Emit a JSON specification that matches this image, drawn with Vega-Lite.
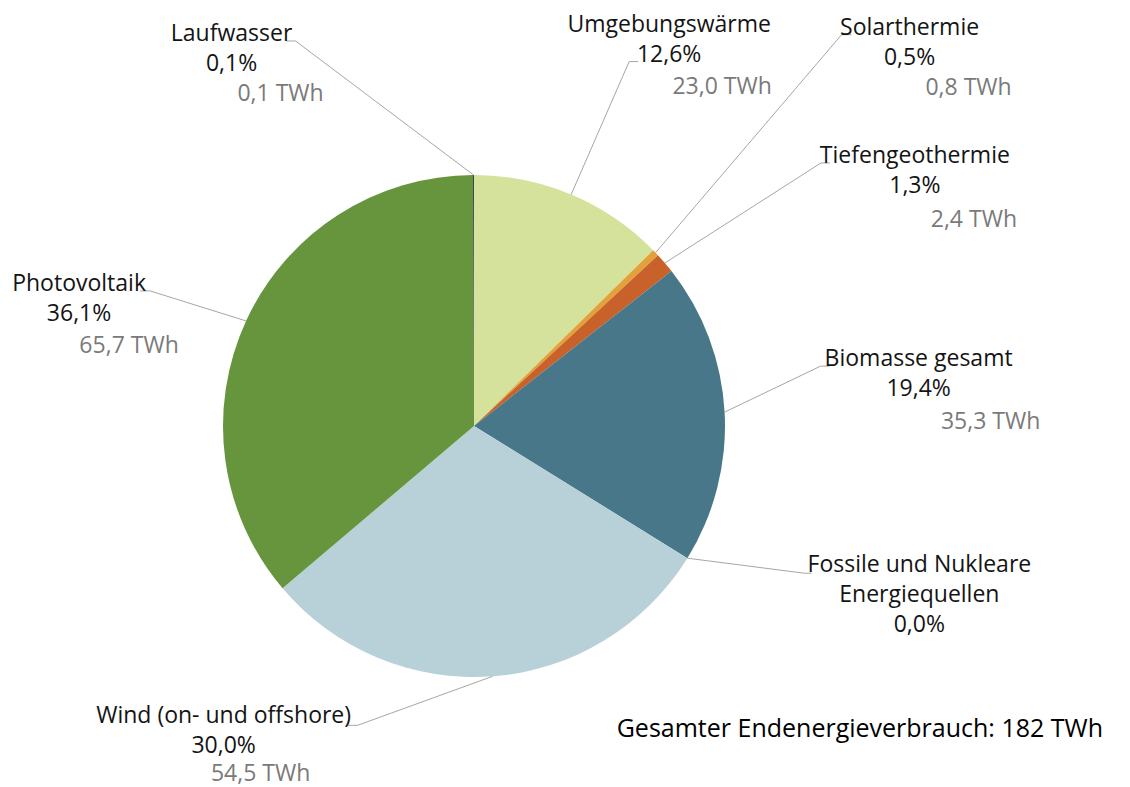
{
  "$schema": "https://vega.github.io/schema/vega-lite/v6.json",
  "width": 948,
  "height": 720,
  "autosize": {"type": "none"},
  "padding": {"left": 0, "top": 66, "right": 182, "bottom": 1},
  "background": "white",
  "config": {"view": {"stroke": null}, "font": "Open Sans"},
  "title": {
    "text": "Gesamter Endenergieverbrauch: 182 TWh",
    "orient": "bottom",
    "anchor": "end",
    "frame": "group",
    "fontSize": 25,
    "fontWeight": "normal",
    "color": "#000000",
    "baseline": "alphabetic",
    "offset": -49,
    "dx": 155
  },
  "data": {
    "values": [
      {"name": "Umgebungswärme", "pct": 12.6, "twh": 23.0},
      {"name": "Solarthermie", "pct": 0.5, "twh": 0.8},
      {"name": "Tiefengeothermie", "pct": 1.3, "twh": 2.4},
      {"name": "Biomasse gesamt", "pct": 19.4, "twh": 35.3},
      {"name": "Fossile und Nukleare\nEnergiequellen", "pct": 0.0, "twh": 0.0},
      {"name": "Wind (on- und offshore)", "pct": 30.0, "twh": 54.5},
      {"name": "Photovoltaik", "pct": 36.1, "twh": 65.7},
      {"name": "Laufwasser", "pct": 0.1, "twh": 0.1}
    ]
  },
  "transform": [
    {"window": [{"op": "row_number", "as": "rn"}]},
    {"stack": "twh", "groupby": [], "sort": [{"field": "rn", "order": "ascending"}], "as": ["s0", "s1"]},
    {"joinaggregate": [{"op": "sum", "field": "twh", "as": "total"}]},
    {"calculate": "PI * (datum.s0 + datum.s1) / datum.total", "as": "ang"},
    {"calculate": "251 * sin(datum.ang)", "as": "rx"},
    {"calculate": "251 * cos(datum.ang)", "as": "ry"},
    {"calculate": "datum.name + '\\n' + replace(format(datum.pct, '.1f'), '.', ',') + '%'", "as": "lab"},
    {"calculate": "replace(format(datum.twh, '.1f'), '.', ',') + ' TWh'", "as": "twhLab"}
  ],
  "layer": [
    {
      "mark": {"type": "arc", "outerRadius": 251},
      "encoding": {
        "theta": {"field": "twh", "type": "quantitative", "stack": true},
        "order": {"field": "rn", "type": "quantitative"},
        "color": {
          "field": "name",
          "type": "nominal",
          "scale": {
            "domain": ["Umgebungswärme", "Solarthermie", "Tiefengeothermie", "Biomasse gesamt", "Fossile und Nukleare\nEnergiequellen", "Wind (on- und offshore)", "Photovoltaik", "Laufwasser"],
            "range": ["#d5e29b", "#e3a13a", "#c8622a", "#477788", "#7f7f7f", "#b8d1d8", "#66953d", "#1c2440"]
          },
          "legend": null
        }
      }
    },
    {
      "mark": {
        "type": "rule",
        "color": "#a6a6a6",
        "strokeWidth": 1,
        "x2Offset": {"expr": "[58,186,156,96,117,-135,-96,-178][datum.rn-1]"},
        "y2Offset": {"expr": "[-133,-218,-100,-46,15,49,-30,-134][datum.rn-1]"}
      },
      "encoding": {
        "x": {"field": "rx", "type": "quantitative", "scale": {"domain": [-474, 474], "nice": false, "zero": false}, "axis": null},
        "y": {"field": "ry", "type": "quantitative", "scale": {"domain": [-360, 360], "nice": false, "zero": false}, "axis": null},
        "x2": {"field": "rx"},
        "y2": {"field": "ry"}
      }
    },
    {
      "mark": {
        "type": "rule",
        "color": "#a6a6a6",
        "strokeWidth": 1,
        "xOffset": {"expr": "[58,186,156,96,117,-135,-96,-178][datum.rn-1]"},
        "x2Offset": {"expr": "[67,196,165,105,124,-147,-106,-187][datum.rn-1]"},
        "yOffset": {"expr": "[-133,-218,-100,-46,15,49,-30,-134][datum.rn-1]"},
        "y2Offset": {"expr": "[-133,-218,-100,-46,15,49,-30,-134][datum.rn-1]"}
      },
      "encoding": {
        "x": {"field": "rx", "type": "quantitative"},
        "y": {"field": "ry", "type": "quantitative"},
        "x2": {"field": "rx"},
        "y2": {"field": "ry"}
      }
    },
    {
      "mark": {
        "type": "text",
        "align": "center",
        "baseline": "alphabetic",
        "fontSize": 23,
        "lineHeight": 30,
        "lineBreak": "\n",
        "color": "#141414",
        "dx": {"expr": "[98,254,250,194,232,-269,-167,-242][datum.rn-1]"},
        "dy": {"expr": "[-163,-218,-100,-46,14,47,-30,-134][datum.rn-1]"}
      },
      "encoding": {
        "x": {"field": "rx", "type": "quantitative"},
        "y": {"field": "ry", "type": "quantitative"},
        "text": {"field": "lab"}
      }
    },
    {
      "transform": [{"filter": "datum.twh > 0"}],
      "mark": {
        "type": "text",
        "align": "center",
        "baseline": "alphabetic",
        "fontSize": 23,
        "color": "#7a7a7a",
        "dx": {"expr": "[151,313,309,266,0,-232,-117,-193][datum.rn-1]"},
        "dy": {"expr": "[-101,-158,-36,17,0,105,32,-74][datum.rn-1]"}
      },
      "encoding": {
        "x": {"field": "rx", "type": "quantitative"},
        "y": {"field": "ry", "type": "quantitative"},
        "text": {"field": "twhLab"}
      }
    }
  ]
}
